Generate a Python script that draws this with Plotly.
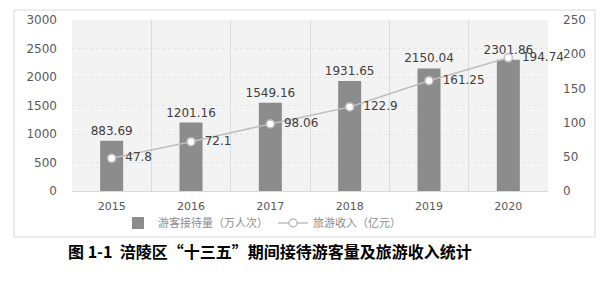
import plotly.graph_objects as go

years = ["2015", "2016", "2017", "2018", "2019", "2020"]
visitors = [883.69, 1201.16, 1549.16, 1931.65, 2150.04, 2301.86]
revenue = [47.8, 72.1, 98.06, 122.9, 161.25, 194.74]
visitor_labels = ["883.69", "1201.16", "1549.16", "1931.65", "2150.04", "2301.86"]
revenue_labels = ["47.8", "72.1", "98.06", "122.9", "161.25", "194.74"]

W, H = 616, 285
L, R, T, B = 72, 548, 20, 191

def px(x):
    return (x - L) / (R - L)

def py(y):
    return (B - y) / (B - T)

fig = go.Figure()
fig.add_trace(go.Bar(
    x=years, y=visitors, name="游客接待量（万人次）",
    marker=dict(color="#8c8c8c", line=dict(width=0)), width=0.29,
    text=visitor_labels, textposition="outside", cliponaxis=False, constraintext="none",
    textfont=dict(family="DejaVu Sans", size=12, color="#404040"),
))
fig.add_trace(go.Scatter(
    x=years, y=revenue, name="旅游收入（亿元）", yaxis="y2",
    mode="lines+markers+text",
    line=dict(color="#bfbfbf", width=1.5),
    marker=dict(symbol="circle", size=8, color="white", line=dict(color="#bfbfbf", width=1.5)),
    text=revenue_labels, texttemplate="  %{text}", textposition="middle right", cliponaxis=False,
    textfont=dict(family="DejaVu Sans", size=12, color="#404040"),
))

fig.update_layout(
    width=W, height=H,
    margin=dict(l=L, r=W - R, t=T, b=H - B),
    paper_bgcolor="white", plot_bgcolor="#f3f3f3",
    showlegend=True,
    legend=dict(orientation="h", x=px(262), xanchor="center", y=py(223), yanchor="middle",
                font=dict(family="Noto Sans CJK SC", size=11, color="#8c8c8c"),
                bgcolor="rgba(0,0,0,0)", itemwidth=30, traceorder="normal"),
    bargap=0.71,
    xaxis=dict(type="category", tickson="boundaries", showgrid=True, gridcolor="#dcdcdc",
               ticks="", showline=True, linecolor="#d9d9d9", ticklabelstandoff=5,
               tickfont=dict(family="DejaVu Sans", size=11, color="#595959")),
    yaxis=dict(range=[0, 3000], dtick=500, showgrid=True, gridcolor="#e3e3e3", griddash="dot",
               zeroline=False, ticks="", ticklen=0, ticklabelstandoff=14,
               tickfont=dict(family="DejaVu Sans", size=12, color="#595959")),
    yaxis2=dict(range=[0, 250], dtick=50, overlaying="y", side="right", showgrid=False,
                zeroline=False, ticklabelstandoff=14,
                tickfont=dict(family="DejaVu Sans", size=12, color="#595959")),
    shapes=[dict(type="rect", xref="paper", yref="paper",
                 x0=px(14), x1=px(595), y0=py(237), y1=py(10),
                 line=dict(color="#d9d9d9", width=1), fillcolor="rgba(0,0,0,0)", layer="below")],
    annotations=[dict(text="<b>图 1-1  涪陵区“十三五”期间接待游客量及旅游收入统计</b>",
                      xref="paper", yref="paper", x=px(270), y=py(251),
                      xanchor="center", yanchor="middle", showarrow=False,
                      font=dict(family="Noto Sans CJK SC", size=16, color="#000000"))],
)

fig.write_html("out.html")
